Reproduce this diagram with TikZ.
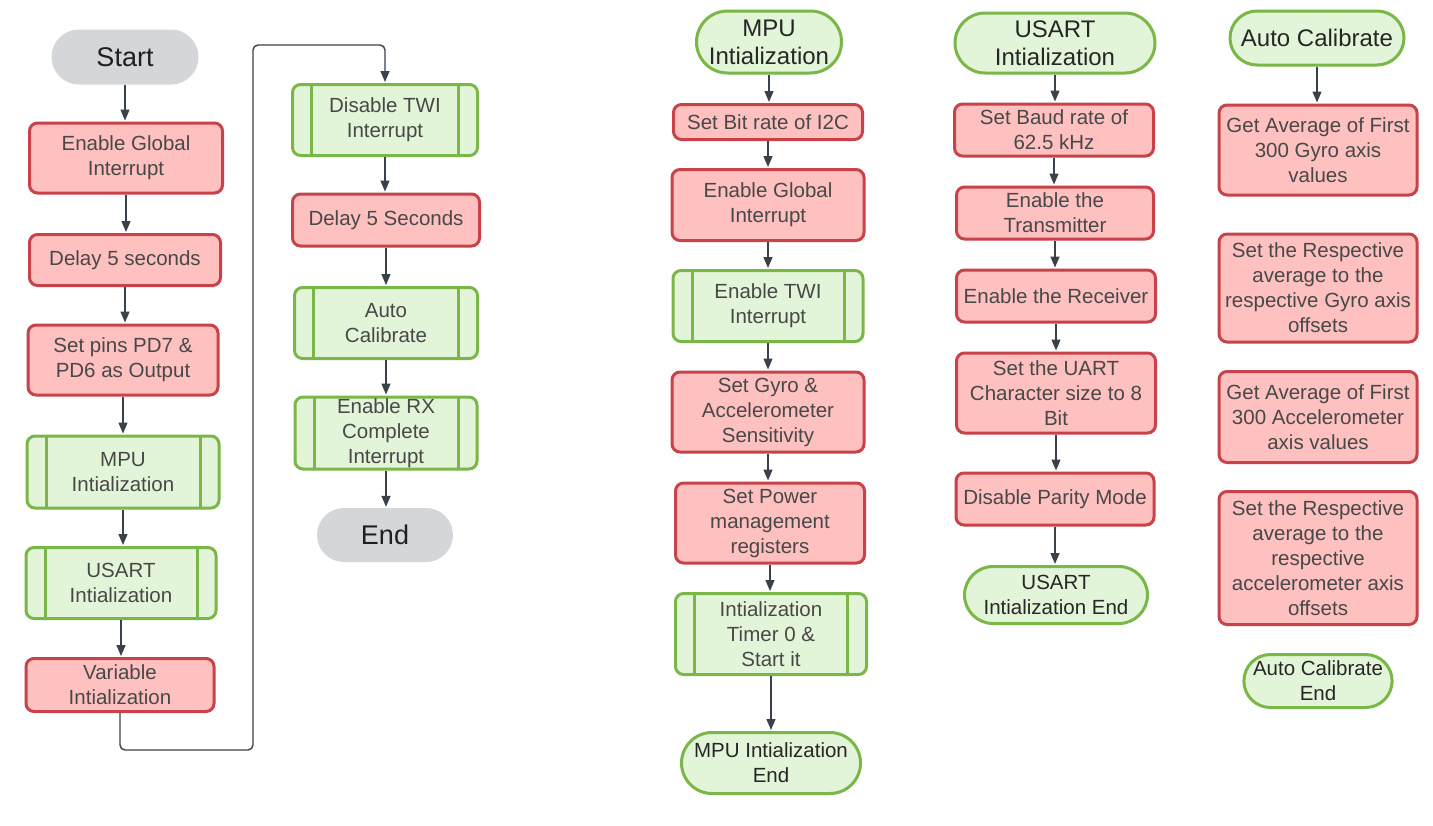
\documentclass[tikz,border=0pt]{standalone}
\usepackage{fontspec}
\setmainfont{Liberation Sans}
\usetikzlibrary{arrows.meta,shapes.misc}

\definecolor{procfill}{RGB}{255,192,192}
\definecolor{procline}{RGB}{200,66,74}
\definecolor{subfill}{RGB}{227,245,216}
\definecolor{subline}{RGB}{122,182,72}
\definecolor{termgray}{RGB}{213,214,217}
\definecolor{txtgray}{RGB}{72,72,72}
\definecolor{arrgray}{RGB}{58,65,74}

\tikzset{
	box/.style 2 args={minimum width=#1pt, minimum height=#2pt, inner sep=0pt, align=center, font=\fontsize{20.5}{25}\selectfont, text=txtgray},
	proc/.style={draw=procline, fill=procfill, line width=3pt, rounded corners=8pt},
	sub/.style={draw=subline, fill=subfill, line width=3pt, rounded corners=8pt,
		path picture={\draw[subline, line width=3pt]
			([xshift=19pt]path picture bounding box.north west) -- ([xshift=19pt]path picture bounding box.south west)
			([xshift=-19pt]path picture bounding box.north east) -- ([xshift=-19pt]path picture bounding box.south east);}},
	term/.style={rounded rectangle, draw=subline, fill=subfill, line width=3pt, text=black!85},
	head/.style={font=\fontsize{24}{28}\selectfont},
	startend/.style={rounded rectangle, fill=termgray, text=black!88, font=\fontsize{27}{30}\selectfont},
	flow/.style={draw=arrgray, line width=1.4pt, shorten >=1pt, -{Triangle[length=11pt,width=9pt]}}
}

\begin{document}
\begin{tikzpicture}[x=1pt, y=-1pt]
\useasboundingbox[fill=white] (0,0) rectangle (1433,825);

%% Hauptprogramm, linke Spalte
\begin{scope}
	\node[box={147}{55}, startend] (start) at (125,57) {Start};
	\node[box={193}{70}, proc] (glob) at (126,158) {Enable Global\\Interrupt};
	\node[box={191}{51}, proc] (delay) at (125,260) {Delay 5 seconds};
	\node[box={190}{70}, proc] (pins) at (123,360) {Set pins PD7 \&\\PD6 as Output};
	\node[box={192}{72}, sub] (mpu) at (123,472) {MPU\\Intialization};
	\node[box={190}{71}, sub] (usart) at (121,583) {USART\\Intialization};
	\node[box={188}{53}, proc] (var) at (120,685) {Variable\\Intialization};
	%%%%%%%%%%%%%%%%
	\draw[flow] (start.south) -- (start.south |- glob.north);
	\draw[flow] (glob.south) -- (glob.south |- delay.north);
	\draw[flow] (delay.south) -- (delay.south |- pins.north);
	\draw[flow] (pins.south) -- (pins.south |- mpu.north);
	\draw[flow] (mpu.south) -- (mpu.south |- usart.north);
	\draw[flow] (usart.south) -- (usart.south |- var.north);
\end{scope}

%% Hauptprogramm, zweite Spalte
\begin{scope}
	\node[box={185}{71}, sub] (twioff) at (385,120) {Disable TWI\\Interrupt};
	\node[box={187}{52}, proc] (delayb) at (386,220) {Delay 5 Seconds};
	\node[box={183}{71}, sub] (calib) at (386,323) {Auto\\Calibrate};
	\node[box={182}{72}, sub] (rxint) at (386,433) {Enable RX\\Complete\\Interrupt};
	\node[box={136}{54}, startend] (end) at (385,535) {End};
	%%%%%%%%%%%%%%%%
	\coordinate (loopbot) at (253,750);
	\coordinate (looptop) at (253,45);
	\draw[flow, rounded corners=5pt] (var.south) |- (loopbot) -- (looptop) -| (twioff.north);
	\draw[flow] (twioff.south) -- (twioff.south |- delayb.north);
	\draw[flow] (delayb.south) -- (delayb.south |- calib.north);
	\draw[flow] (calib.south) -- (calib.south |- rxint.north);
	\draw[flow] (rxint.south) -- (rxint.south |- end.north);
\end{scope}

%% MPU Initialisierung
\begin{scope}
	\node[box={145}{62}, term, head] (mpuhead) at (769,42) {MPU\\Intialization};
	\node[box={189}{35}, proc] (bitrate) at (768,122) {Set Bit rate of I2C};
	\node[box={192}{71}, proc] (globb) at (768,205) {Enable Global\\Interrupt};
	\node[box={190}{71}, sub] (twion) at (768,306) {Enable TWI\\Interrupt};
	\node[box={192}{80}, proc] (sens) at (768,412) {Set Gyro \&\\Accelerometer\\Sensitivity};
	\node[box={189}{80}, proc] (power) at (770,523) {Set Power\\management\\registers};
	\node[box={191}{81}, sub] (timer) at (771,634) {Intialization\\Timer 0 \&\\Start it};
	\node[box={179}{61}, term] (mpuend) at (771,763) {MPU Intialization\\End};
	%%%%%%%%%%%%%%%%
	\draw[flow] (mpuhead.south) -- (mpuhead.south |- bitrate.north);
	\draw[flow] (bitrate.south) -- (bitrate.south |- globb.north);
	\draw[flow] (globb.south) -- (globb.south |- twion.north);
	\draw[flow] (twion.south) -- (twion.south |- sens.north);
	\draw[flow] (sens.south) -- (sens.south |- power.north);
	\draw[flow] (power.south) -- (power.south |- timer.north);
	\draw[flow] (timer.south) -- (timer.south |- mpuend.north);
\end{scope}

%% USART Initialisierung
\begin{scope}
	\node[box={200}{60}, term, head] (ushead) at (1055,43) {USART\\Intialization};
	\node[box={199}{52}, proc] (baud) at (1054,130) {Set Baud rate of\\62.5 kHz};
	\node[box={197}{52}, proc] (trans) at (1055,213) {Enable the\\Transmitter};
	\node[box={199}{52}, proc] (recv) at (1056,296) {Enable the Receiver};
	\node[box={199}{80}, proc] (chsize) at (1056,393) {Set the UART\\Character size to 8\\Bit};
	\node[box={198}{52}, proc] (parity) at (1055,499) {Disable Parity Mode};
	\node[box={183}{57}, term] (usend) at (1056,595) {USART\\Intialization End};
	%%%%%%%%%%%%%%%%
	\draw[flow] (ushead.south) -- (ushead.south |- baud.north);
	\draw[flow] (baud.south) -- (baud.south |- trans.north);
	\draw[flow] (trans.south) -- (trans.south |- recv.north);
	\draw[flow] (recv.south) -- (recv.south |- chsize.north);
	\draw[flow] (chsize.south) -- (chsize.south |- parity.north);
	\draw[flow] (parity.south) -- (parity.south |- usend.north);
\end{scope}

%% Auto Calibrate
\begin{scope}
	\node[box={174}{54}, term, head] (cahead) at (1317,38) {Auto Calibrate};
	\node[box={198}{90}, proc] (gyroavg) at (1318,150) {Get Average of First\\300 Gyro axis\\values};
	\node[box={198}{108}, proc] (gyroset) at (1318,288) {Set the Respective\\average to the\\respective Gyro axis\\offsets};
	\node[box={198}{91}, proc] (accavg) at (1318,417) {Get Average of First\\300 Accelerometer\\axis values};
	\node[box={198}{133}, proc] (accset) at (1318,558) {Set the Respective\\average to the\\respective\\accelerometer axis\\offsets};
	\node[box={145}{53}, term] (caend) at (1318,681) {Auto Calibrate\\End};
	%%%%%%%%%%%%%%%%
	\draw[flow] (cahead.south) -- (cahead.south |- gyroavg.north);
\end{scope}

\end{tikzpicture}
\end{document}
